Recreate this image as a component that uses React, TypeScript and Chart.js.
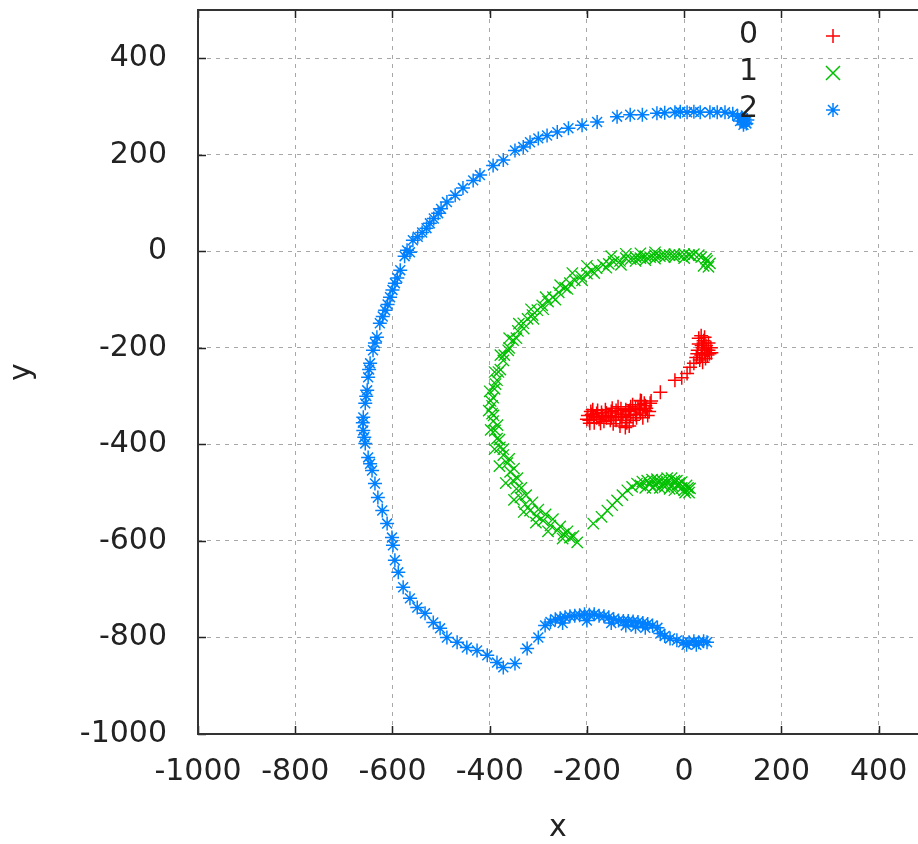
import React, { useEffect, useRef } from "react";
import { Chart, registerables } from "chart.js";

Chart.register(...registerables);

const xTickValues = [-1000, -800, -600, -400, -200, 0, 200, 400];
const yTickValues = [-1000, -800, -600, -400, -200, 0, 200, 400];
const seriesNames = ["0", "1", "2"];

const series0: [number, number][] = [
  [30, -180], [35, -175], [40, -190], [38, -200], [45, -195], [50, -205], [42, -210], [35, -215],
  [28, -205], [48, -215], [55, -200], [32, -225], [25, -220], [40, -185], [44, -222], [52, -212],
  [36, -195], [30, -192], [46, -205], [42, -178], [38, -230], [50, -190], [56, -210], [27, -212],
  [20, -232], [12, -240], [6, -253], [-5, -262], [-19, -267], [-49, -292], [-90, -309],
  [-70, -315], [-80, -320], [-90, -318], [-100, -325], [-110, -322], [-120, -328], [-130, -326],
  [-140, -330], [-150, -332], [-160, -335], [-170, -334], [-180, -336], [-190, -338], [-198, -340],
  [-195, -350], [-185, -355], [-175, -348], [-165, -352], [-150, -345], [-140, -350], [-130, -342],
  [-120, -345], [-110, -340], [-100, -338], [-90, -335], [-80, -330], [-75, -340], [-85, -345],
  [-121, -365], [-146, -357], [-160, -345], [-180, -345], [-105, -350], [-95, -325], [-188, -328],
  [-170, -342], [-135, -335], [-115, -332], [-88, -310],
  [-192, -332], [-186, -342], [-178, -330], [-172, -356], [-162, -328], [-156, -340], [-148, -325],
  [-142, -342], [-136, -322], [-126, -338], [-118, -355], [-112, -330], [-106, -318], [-98, -345],
  [-92, -328], [-82, -315], [-78, -325], [-72, -332], [-68, -310], [-200, -348], [-194, -356],
  [-168, -340], [-152, -350], [-128, -350], [-132, -362], [-113, -362],
];

const series1: [number, number][] = [
  [53, -25], [47, -20], [40, -30], [45, -15], [35, -12], [50, -32], [30, -8],
  [20, -6], [10, -8], [0, -6], [-10, -8], [-20, -6], [-30, -8], [-40, -6], [-50, -10], [-60, -8],
  [-70, -12], [-80, -10], [-90, -14], [-100, -12], [-110, -16], [-120, -14], [-132, -20],
  [-145, -22], [-155, -26], [-167, -28], [-180, -35], [-190, -40], [-200, -46], [-212, -52],
  [-225, -60], [-235, -66], [-245, -75], [-258, -85], [-270, -95], [-280, -104], [-292, -112],
  [-302, -122], [-312, -132], [-322, -140], [-331, -149], [-342, -165], [-352, -184], [-362, -205],
  [-372, -226], [-378, -245], [-385, -267], [-390, -285], [-393, -303], [-395, -320], [-395, -336],
  [-393, -352], [-389, -371], [-385, -388], [-379, -406], [-372, -422], [-364, -439], [-358, -457],
  [-352, -475], [-345, -492], [-337, -510], [-327, -524], [-317, -537], [-304, -548], [-290, -558],
  [-275, -568], [-261, -578], [-248, -586], [-235, -593], [-220, -603],
  [-255, -70], [-285, -95], [-315, -120], [-340, -150], [-360, -180], [-378, -215], [-390, -250],
  [-400, -290], [-402, -330], [-398, -370], [-390, -410], [-380, -445], [-367, -480], [-350, -515],
  [-330, -540], [-305, -562], [-280, -580], [-250, -595], [-150, -10], [-120, -5], [-200, -30],
  [-230, -45], [-60, -2], [-90, -4],
  [-100, -20], [-80, -18], [-60, -15], [-40, -12], [-20, -12], [0, -14], [15, -10], [-130, -28],
  [-160, -34], [-185, -45], [-210, -60], [-240, -78], [-265, -100], [-290, -120], [-310, -140],
  [-330, -160], [-345, -180], [-360, -200], [-370, -215], [-382, -250], [-388, -275], [-398, -310],
  [-392, -340], [-384, -360], [-380, -390], [-372, -410], [-360, -430], [-350, -450], [-343, -470],
  [-335, -490], [-325, -505], [-312, -520], [-300, -535], [-285, -545], [-270, -555], [-255, -570],
  [-240, -580], [-228, -590],
  [-187, -564], [-170, -550], [-158, -537], [-148, -526], [-138, -516], [-127, -505], [-117, -495],
  [-107, -488], [-97, -481], [-86, -477], [-76, -475], [-66, -473], [-56, -472], [-46, -474],
  [-36, -478], [-26, -470], [-20, -475], [-15, -485], [-10, -480], [-5, -490], [0, -495], [5, -485],
  [10, -500], [12, -491], [-60, -485], [-50, -490], [-40, -488], [-30, -492], [-20, -495],
  [-70, -482], [-80, -490], [-45, -482], [-35, -470], [-25, -485], [-15, -475], [-5, -478],
  [2, -500], [8, -490], [-55, -478], [-65, -490], [-90, -485],
];

const series2: [number, number][] = [
  [130, 272], [125, 268], [120, 275], [115, 270], [128, 265], [118, 278], [110, 280], [122, 262],
  [100, 285], [84, 288], [68, 288], [53, 288], [33, 288], [20, 289], [6, 288], [-8, 289], [-19, 288],
  [-40, 287], [-56, 286], [-86, 283], [-111, 283], [-138, 279], [-179, 268], [-210, 261], [-238, 255],
  [-261, 247], [-282, 240], [-300, 234], [-317, 226], [-331, 216], [-348, 209], [-372, 189],
  [-393, 178], [-420, 158], [-434, 147], [-455, 131], [-471, 116], [-488, 102], [-500, 88],
  [-506, 79], [-515, 68], [-523, 58], [-530, 48], [-539, 39], [-548, 30], [-558, 23], [-564, -2],
  [-570, 2], [-575, -10], [-584, -39], [-590, -55], [-595, -66], [-600, -80], [-605, -95],
  [-610, -110], [-615, -122], [-620, -135], [-626, -149], [-632, -178], [-636, -190], [-640, -205],
  [-646, -232], [-648, -245], [-650, -261], [-652, -288], [-654, -300], [-656, -315], [-660, -344],
  [-661, -355], [-660, -371], [-658, -385], [-656, -398], [-650, -427], [-646, -440], [-642, -454],
  [-636, -481], [-630, -510], [-621, -537], [-611, -564], [-601, -593], [-599, -609], [-595, -640],
  [-588, -665], [-578, -696], [-564, -719], [-549, -738], [-533, -750], [-516, -769], [-502, -781],
  [-488, -800], [-467, -810], [-447, -821], [-426, -827], [-405, -837], [-385, -852], [-372, -862],
  [-348, -854], [-323, -823], [-300, -800], [-286, -775],
  [-275, -768], [-265, -762], [-255, -760], [-245, -758], [-235, -756], [-225, -755], [-215, -754],
  [-205, -752], [-195, -753], [-185, -752], [-175, -755], [-165, -756], [-155, -758], [-145, -762],
  [-135, -765], [-125, -766], [-115, -766], [-105, -767], [-95, -768], [-85, -770], [-75, -772],
  [-65, -775], [-55, -780], [-250, -770], [-200, -765], [-150, -770], [-120, -775], [-100, -778],
  [-80, -780], [-49, -792], [-40, -797], [-29, -802], [-15, -806], [-2, -810], [10, -810],
  [20, -808], [30, -810], [40, -808], [47, -810], [25, -815], [5, -815],
];

const seriesColors = ["#ff0000", "#00c000", "#0080ff"];
const FONT = "DejaVu Sans";
const TEXT = "#222";

function drawMarker(ctx: CanvasRenderingContext2D, kind: number, x: number, y: number) {
  ctx.beginPath();
  if (kind === 0 || kind === 2) {
    ctx.moveTo(x - 7, y); ctx.lineTo(x + 7, y);
    ctx.moveTo(x, y - 7); ctx.lineTo(x, y + 7);
  }
  if (kind === 1) {
    ctx.moveTo(x - 7, y - 7); ctx.lineTo(x + 7, y + 7);
    ctx.moveTo(x - 7, y + 7); ctx.lineTo(x + 7, y - 7);
  }
  if (kind === 2) {
    ctx.moveTo(x - 5, y - 5); ctx.lineTo(x + 5, y + 5);
    ctx.moveTo(x - 5, y + 5); ctx.lineTo(x + 5, y - 5);
  }
  ctx.stroke();
}

const framePlugin = {
  id: "frame",
  afterDraw(chart: any) {
    const { ctx, chartArea: a, scales } = chart;
    ctx.save();
    ctx.strokeStyle = "#222";
    ctx.lineWidth = 1.5;
    ctx.beginPath();
    xTickValues.forEach((v) => {
      const px = Math.round(scales.x.getPixelForValue(v)) + 0.5;
      ctx.moveTo(px, a.bottom); ctx.lineTo(px, a.bottom - 8);
      ctx.moveTo(px, a.top); ctx.lineTo(px, a.top + 8);
    });
    yTickValues.forEach((v) => {
      const py = Math.round(scales.y.getPixelForValue(v)) + 0.5;
      ctx.moveTo(a.left, py); ctx.lineTo(a.left + 8, py);
    });
    ctx.stroke();
    ctx.lineWidth = 2;
    ctx.strokeStyle = "#333";
    ctx.beginPath();
    ctx.moveTo(a.right + 5, a.top);
    ctx.lineTo(a.left, a.top);
    ctx.lineTo(a.left, a.bottom);
    ctx.lineTo(a.right + 5, a.bottom);
    ctx.stroke();
    // legend
    ctx.font = `30px "${FONT}"`;
    ctx.fillStyle = TEXT;
    ctx.textAlign = "right";
    ctx.textBaseline = "middle";
    seriesNames.forEach((name, i) => {
      const y = 35 + i * 37;
      ctx.fillText(name, 758, y);
      ctx.strokeStyle = seriesColors[i];
      ctx.lineWidth = 1.5;
      drawMarker(ctx, i, 833, y + 1);
    });
    ctx.restore();
  },
};

export default function App() {
  const ref = useRef<HTMLCanvasElement>(null);
  useEffect(() => {
    document.body.style.margin = "0";
    const canvas = ref.current!;
    const gridCommon = { color: "#a8a8a8", lineWidth: 1, drawTicks: false };
    const chart = new Chart(canvas, {
      type: "scatter",
      data: {
        datasets: [
          {
            label: seriesNames[0],
            data: series0.map(([x, y]) => ({ x, y })),
            pointStyle: "cross",
            radius: 7,
            borderColor: seriesColors[0],
            backgroundColor: seriesColors[0],
            borderWidth: 1.5,
          },
          {
            label: seriesNames[1],
            data: series1.map(([x, y]) => ({ x, y })),
            pointStyle: "crossRot",
            radius: 8,
            borderColor: seriesColors[1],
            backgroundColor: seriesColors[1],
            borderWidth: 1.3,
          },
          {
            label: seriesNames[2],
            data: series2.map(([x, y]) => ({ x, y })),
            pointStyle: "star",
            radius: 7,
            borderColor: seriesColors[2],
            backgroundColor: seriesColors[2],
            borderWidth: 1.5,
          },
        ],
      },
      options: {
        animation: false,
        responsive: false,
        devicePixelRatio: 1,
        layout: { autoPadding: false, padding: { top: 10, right: 0, left: 0, bottom: 0 } },
        plugins: { legend: { display: false }, tooltip: { enabled: false } },
        scales: {
          x: {
            type: "linear",
            min: -1000,
            max: 481,
            afterBuildTicks: (s: any) => {
              s.ticks = xTickValues.map((value) => ({ value }));
            },
            afterFit: (s: any) => {
              s.height = 110;
              s.paddingLeft = 0;
              s.paddingRight = 0;
              s.paddingTop = 0;
              s.paddingBottom = 0;
            },
            grid: gridCommon,
            border: { display: false, dash: [4, 5] },
            ticks: {
              font: { family: FONT, size: 30 },
              color: TEXT,
              padding: 20,
              maxRotation: 0,
              autoSkip: false,
              callback: (v: any) => String(v),
            },
            title: {
              display: true,
              text: "x",
              font: { family: FONT, size: 30 },
              color: TEXT,
              padding: { top: 0, bottom: -2 },
            },
          },
          y: {
            type: "linear",
            min: -1000,
            max: 500,
            afterBuildTicks: (s: any) => {
              s.ticks = yTickValues.map((value) => ({ value }));
            },
            afterFit: (s: any) => {
              s.width = 198;
              s.paddingLeft = 0;
              s.paddingRight = 0;
              s.paddingTop = 0;
              s.paddingBottom = 0;
            },
            grid: gridCommon,
            border: { display: false, dash: [4, 5] },
            ticks: {
              font: { family: FONT, size: 30 },
              color: TEXT,
              padding: 31,
              autoSkip: false,
              callback: (v: any) => String(v),
            },
            title: {
              display: true,
              text: "y",
              font: { family: FONT, size: 30 },
              color: TEXT,
              padding: { top: 4, bottom: 0 },
            },
          },
        },
      },
      plugins: [framePlugin],
    });
    return () => chart.destroy();
  }, []);
  return <canvas ref={ref} width={918} height={844} style={{ display: "block" }} />;
}
